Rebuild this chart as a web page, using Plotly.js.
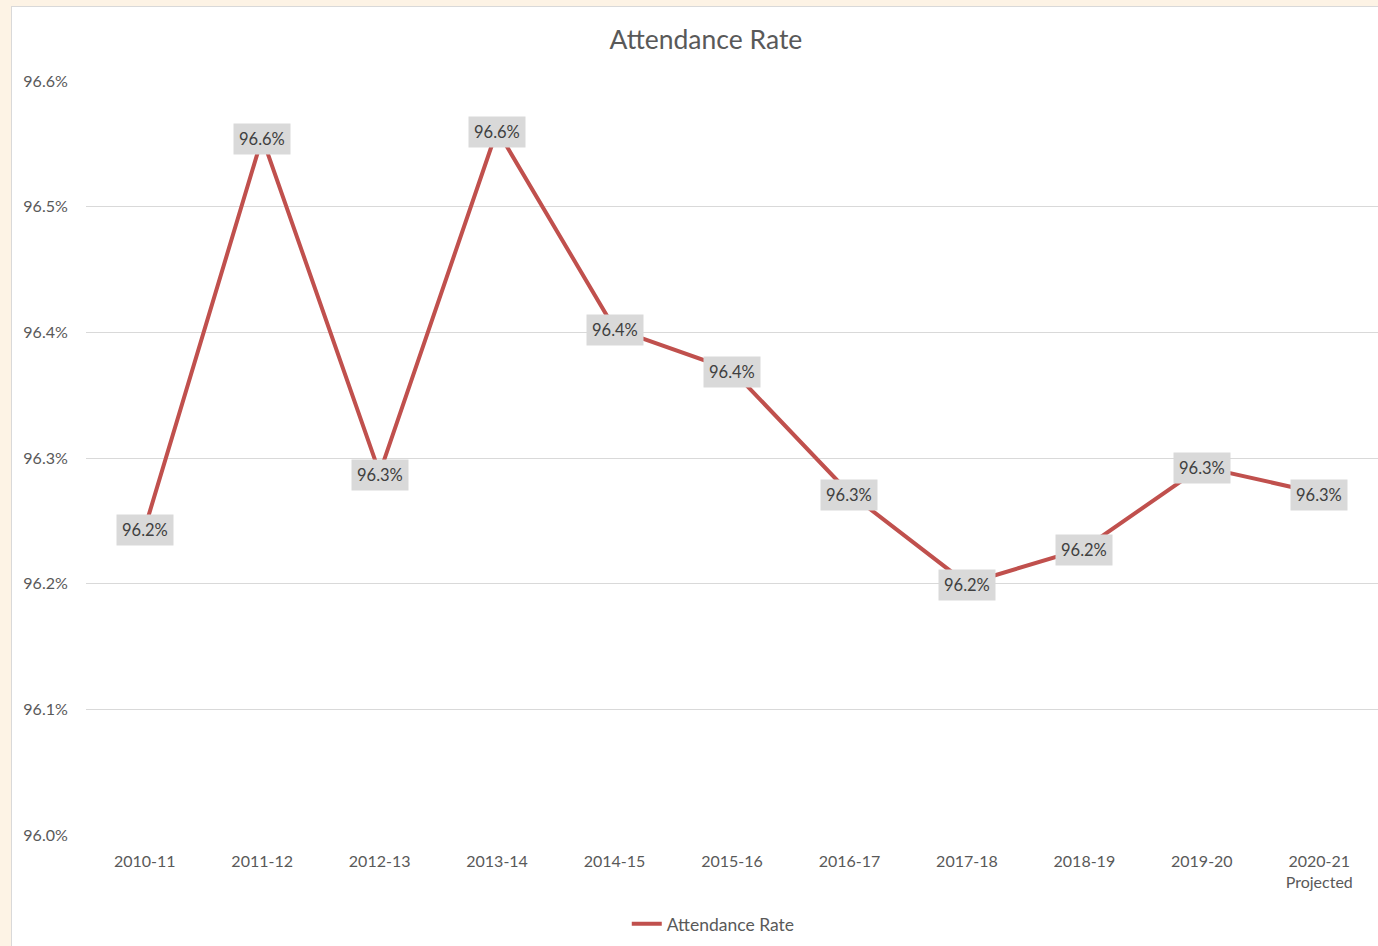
<!DOCTYPE html>
<html>
<head>
<meta charset="utf-8">
<script src="https://cdn.plot.ly/plotly-3.0.1.min.js"></script>
<style>
  html, body { margin: 0; padding: 0; background: #FDF3E5; width: 1378px; height: 946px; overflow: hidden; }
  #chart { position: absolute; left: 11px; top: 6px; width: 1366px; height: 939px; background: #fff;
           border-top: 1px solid #D9D9D9; border-left: 1px solid #D9D9D9; }
</style>
</head>
<body>
<div id="chart"></div>
<script>
const categories = ["2010-11", "2011-12", "2012-13", "2013-14", "2014-15", "2015-16",
                    "2016-17", "2017-18", "2018-19", "2019-20", "2020-21<br>Projected"];
const attendanceRate = [96.244, 96.555, 96.288, 96.561, 96.403, 96.370,
                        96.272, 96.200, 96.228, 96.293, 96.272];
const yTickValues = [96.0, 96.1, 96.2, 96.3, 96.4, 96.5, 96.6];
const seriesName = "Attendance Rate";
const chartTitle = "Attendance Rate";

const FONT = "Lato, 'Open Sans', sans-serif";

const trace = {
  type: "scatter",
  mode: "lines",
  x: categories,
  y: attendanceRate,
  name: seriesName,
  line: { color: "#C0504D", width: 4 },
  hoverinfo: "x+y"
};

const annotations = categories.map((c, i) => ({
  x: c,
  y: attendanceRate[i],
  xref: "x",
  yref: "y",
  text: attendanceRate[i].toFixed(1) + "%",
  showarrow: false,
  bgcolor: "#D9D9D9",
  borderpad: 5,
  font: { family: FONT, size: 16.5, color: "#404040" },
  xanchor: "center",
  yanchor: "middle",
  yshift: -1.5
}));

const layout = {
  width: 1366,
  height: 939,
  margin: { l: 74, r: 0, t: 74, b: 111 },
  paper_bgcolor: "#FFFFFF",
  plot_bgcolor: "#FFFFFF",
  font: { family: FONT, color: "#595959" },
  title: {
    text: chartTitle,
    font: { family: FONT, size: 26.5, color: "#595959" },
    xref: "container",
    x: 0.508,
    xanchor: "center",
    yref: "container",
    y: 0.965,
    yanchor: "middle"
  },
  xaxis: {
    type: "category",
    range: [-0.5, categories.length - 0.5],
    showgrid: false,
    zeroline: false,
    showline: false,
    ticks: "outside",
    ticklen: 12,
    tickcolor: "rgba(0,0,0,0)",
    tickfont: { family: FONT, size: 16, color: "#595959" },
    fixedrange: true
  },
  yaxis: {
    range: [96.0, 96.6],
    tickvals: yTickValues,
    ticktext: yTickValues.map(v => v.toFixed(1) + "%"),
    showgrid: true,
    gridcolor: "#D9D9D9",
    gridwidth: 1,
    zeroline: false,
    showline: false,
    ticks: "outside",
    ticklen: 14,
    tickcolor: "rgba(0,0,0,0)",
    tickfont: { family: FONT, size: 16, color: "#595959" },
    fixedrange: true
  },
  showlegend: true,
  legend: {
    orientation: "h",
    x: 0.4855,
    xanchor: "center",
    y: -0.118,
    yanchor: "middle",
    font: { family: FONT, size: 17.5, color: "#595959" },
    bgcolor: "rgba(0,0,0,0)"
  },
  annotations: annotations
};

Plotly.newPlot("chart", [trace], layout, { displayModeBar: false, staticPlot: true });
</script>
</body>
</html>
